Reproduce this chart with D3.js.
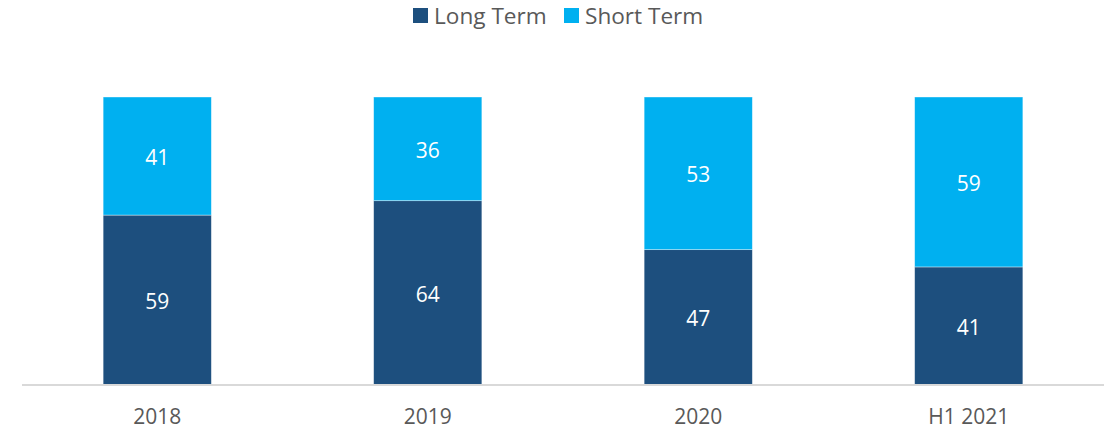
<!DOCTYPE html>
<html>
<head>
<meta charset="utf-8">
<script src="https://cdn.jsdelivr.net/npm/d3@7"></script>
<style>
  html, body { margin: 0; padding: 0; background: #fff; }
  svg { display: block; font-family: "Open Sans", sans-serif; }
</style>
</head>
<body>
<svg id="chart" width="1111" height="429"></svg>
<script>
const categories = ["2018", "2019", "2020", "H1 2021"];
const longTerm = [59, 64, 47, 41];
const shortTerm = [41, 36, 53, 59];
const seriesNames = ["Long Term", "Short Term"];
const colors = ["#1D4F7E", "#00B0F0"];

const svg = d3.select("#chart");
const margin = { left: 22, right: 7, top: 97, bottom: 44 };
const W = 1111, H = 429;

const rows = categories.map((c, i) => ({ cat: c, "Long Term": longTerm[i], "Short Term": shortTerm[i] }));
const stack = d3.stack().keys(seriesNames)(rows);

const x = d3.scaleBand().domain(categories).range([margin.left, W - margin.right]).paddingInner(0.6).paddingOuter(0.3);
const y = d3.scaleLinear().domain([0, 100]).range([H - margin.bottom, margin.top]);

const g = svg.append("g");
stack.forEach((s, si) => {
  g.selectAll(null).data(s).enter().append("rect")
    .attr("x", d => x(d.data.cat))
    .attr("y", d => y(d[1]))
    .attr("width", x.bandwidth())
    .attr("height", d => y(d[0]) - y(d[1]))
    .attr("fill", colors[si])
    .attr("stroke", "rgba(255,255,255,0.5)")
    .attr("stroke-width", 0.75);
  g.selectAll(null).data(s).enter().append("text")
    .attr("x", d => x(d.data.cat) + x.bandwidth() / 2)
    .attr("y", d => (y(d[0]) + y(d[1])) / 2 + 1.5)
    .attr("dy", "0.35em")
    .attr("text-anchor", "middle")
    .attr("fill", "#fff")
    .attr("font-size", 21)
    .text(d => d[1] - d[0]);
});

// x axis
const xAxis = d3.axisBottom(x).tickSize(0).tickPadding(24);
const ax = svg.append("g").attr("transform", `translate(0,${y(0)})`).call(xAxis);
ax.select(".domain").attr("stroke", "#D9D9D9").attr("stroke-width", 2)
  .attr("d", `M${margin.left},0H${W - margin.right}`);
ax.selectAll("text").attr("font-size", 21).attr("fill", "#595959").attr("font-family", "Open Sans, sans-serif");

// legend
const leg = svg.append("g");
const legItems = [{ name: seriesNames[0], x: 413 }, { name: seriesNames[1], x: 564 }];
legItems.forEach((it, i) => {
  leg.append("rect").attr("x", it.x).attr("y", 8).attr("width", 15).attr("height", 15).attr("fill", colors[i]);
  leg.append("text").attr("x", it.x + 21).attr("y", 23.5).attr("font-size", 22.6).attr("fill", "#595959").text(it.name);
});
</script>
</body>
</html>
